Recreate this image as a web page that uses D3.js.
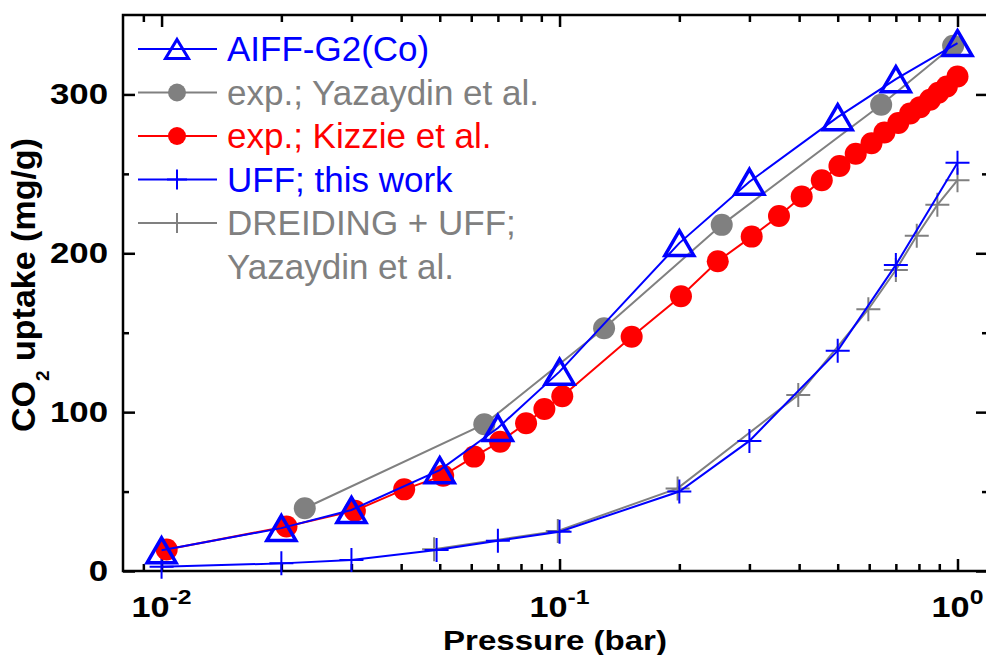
<!DOCTYPE html>
<html>
<head>
<meta charset="utf-8">
<script src="https://cdn.jsdelivr.net/npm/d3@7"></script>
<style>
  body { margin: 0; background: #fff; }
  text { font-family: Arial, "Liberation Sans", sans-serif; }
</style>
</head>
<body>
<div id="chart"></div>
<script>
// ---- data ----
var aiffP = [0.01, 0.02, 0.03, 0.05, 0.07, 0.1, 0.2, 0.3, 0.5, 0.7, 1.0];
var aiffV = [13, 27, 38.4, 63.5, 90, 125.5, 206.4, 245, 285.7, 309.6, 332.3];

var yazP = [0.0229, 0.0647, 0.1294, 0.2556, 0.643, 0.975];
var yazV = [39.5, 92.4, 152.8, 217.9, 293.5, 330.6];

var kizP = [0.0103, 0.0206, 0.0306, 0.0407, 0.051, 0.061, 0.0709, 0.0824, 0.0916, 0.1016,
            0.1518, 0.2019, 0.2498, 0.304, 0.356, 0.406, 0.456, 0.505, 0.555, 0.608,
            0.655, 0.71, 0.76, 0.805, 0.853, 0.895, 0.94, 1.0];
var kizV = [13.5, 28, 38, 51.4, 60, 72, 81.4, 93, 102, 110,
            147.5, 173, 195, 210.5, 223.5, 235.7, 246, 255, 262.6, 269.3,
            276, 282, 288, 292, 296.6, 301, 305, 311.3];

var uffP = [0.01, 0.02, 0.03, 0.0491, 0.07, 0.1, 0.2, 0.3, 0.5, 0.7, 1.0];
var uffV = [2.7, 4.8, 6.9, 13.2, 19.1, 24.7, 50, 81.9, 138.7, 192.7, 257];

var dreP = [0.0484, 0.099, 0.198, 0.398, 0.597, 0.7, 0.79, 0.89, 1.0];
var dreV = [13.7, 25.2, 52, 110.8, 164.8, 189.5, 211, 230.5, 246];

var xMajor = [0.01, 0.1, 1];
var xMajorExp = ['-2', '-1', '0'];
var yMajor = [0, 100, 200, 300];
var yMinor = [50, 150, 250];

var legendNames = ['AIFF-G2(Co)', 'exp.; Yazaydin et al.', 'exp.; Kizzie et al.',
                   'UFF; this work', 'DREIDING + UFF;'];
var legendExtra = 'Yazaydin et al.';

// ---- layout ----
var margin = {top: 15, left: 123};
var width = 865, height = 556;
var BLUE = '#0000ff', RED = '#ff0000', GREY = '#808080';

var svg = d3.select('#chart').append('svg')
    .attr('width', 986).attr('height', 655);
var g = svg.append('g')
    .attr('transform', 'translate(' + margin.left + ',' + margin.top + ')');

var x = d3.scaleLog().domain([0.008, 1.193]).range([0, width]);
var y = d3.scaleLinear().domain([0, 350]).range([height, 0]);

// minor x ticks: 2..9 in each decade
var xMinor = [];
[0.001, 0.01, 0.1, 1].forEach(function(dec) {
  for (var k = 2; k <= 9; k++) {
    var v = dec * k;
    if (v > x.domain()[0] && v < x.domain()[1]) xMinor.push(v);
  }
});

// ---- axes: ticks point inward on all four sides ----
function tickAxis(axis, vals, size) {
  return axis.tickValues(vals).tickSize(size).tickFormat('');
}
var axes = g.append('g').attr('class', 'axes');
axes.append('g').attr('transform', 'translate(0,' + height + ')')
    .call(tickAxis(d3.axisBottom(x), xMajor, -12));
axes.append('g').attr('transform', 'translate(0,' + height + ')')
    .call(tickAxis(d3.axisBottom(x), xMinor, -7));
axes.append('g').call(tickAxis(d3.axisTop(x), xMajor, -12));
axes.append('g').call(tickAxis(d3.axisTop(x), xMinor, -7));
axes.append('g').call(tickAxis(d3.axisLeft(y), yMajor, -12));
axes.append('g').call(tickAxis(d3.axisLeft(y), yMinor, -6));
axes.append('g').attr('transform', 'translate(' + width + ',0)')
    .call(tickAxis(d3.axisRight(y), yMajor, -12));
axes.append('g').attr('transform', 'translate(' + width + ',0)')
    .call(tickAxis(d3.axisRight(y), yMinor, -6));
axes.selectAll('.domain').remove();
axes.selectAll('.tick line').attr('stroke', '#000').attr('stroke-width', 2.5);

g.append('rect')
    .attr('width', width).attr('height', height)
    .attr('fill', 'none').attr('stroke', '#000').attr('stroke-width', 2.5);

// tick labels (the original text is stretched a bit horizontally)
xMajor.forEach(function(v, i) {
  var t = g.append('g')
      .attr('transform', 'translate(' + x(v) + ',' + (height + 46) + ') scale(1.18,1)')
    .append('text')
      .attr('text-anchor', 'middle')
      .attr('font-weight', 'bold')
      .attr('font-size', 29);
  t.append('tspan').text('10');
  t.append('tspan').attr('dy', -13).attr('font-size', 21).text(xMajorExp[i]);
});
yMajor.forEach(function(v) {
  g.append('g')
      .attr('transform', 'translate(-15,' + (y(v) + 10) + ') scale(1.2,1)')
    .append('text')
      .attr('text-anchor', 'end')
      .attr('font-weight', 'bold')
      .attr('font-size', 29)
      .text(v);
});

// axis titles
svg.append('g')
    .attr('transform', 'translate(555,650) scale(1.18,1)')
  .append('text')
    .attr('text-anchor', 'middle')
    .attr('font-weight', 'bold')
    .attr('font-size', 28)
    .text('Pressure (bar)');

var yt = svg.append('text')
    .attr('transform', 'translate(35,285) rotate(-90)')
    .attr('text-anchor', 'middle')
    .attr('font-weight', 'bold')
    .attr('font-size', 34);
yt.append('tspan').text('CO');
yt.append('tspan').attr('dy', 14).attr('font-size', 19).text('2');
yt.append('tspan').attr('dy', -14).text(' uptake (mg/g)');

// ---- series ----
function zip(ps, vs) { return ps.map(function(p, i) { return [p, vs[i]]; }); }
var line = d3.line().x(function(d) { return x(d[0]); }).y(function(d) { return y(d[1]); });

function triPath(w, h) {
  return 'M0,' + (-h) + 'L' + w + ',' + h + 'L' + (-w) + ',' + h + 'Z';
}
function plusPath(s) {
  return 'M' + (-s) + ',0H' + s + 'M0,' + (-s) + 'V' + s;
}

var series = [
  {data: zip(dreP, dreV), color: GREY, marker: 'plus'},
  {data: zip(uffP, uffV), color: BLUE, marker: 'plus'},
  {data: zip(yazP, yazV), color: GREY, marker: 'circle'},
  {data: zip(kizP, kizV), color: RED, marker: 'circle'},
  {data: zip(aiffP, aiffV), color: BLUE, marker: 'triangle'}
];

var gSeries = g.append('g').attr('class', 'series');
series.forEach(function(s) {
  var sg = gSeries.append('g');
  sg.append('path')
      .attr('d', line(s.data))
      .attr('fill', 'none')
      .attr('stroke', s.color)
      .attr('stroke-width', 2);
  var pts = sg.selectAll('.pt').data(s.data).enter();
  if (s.marker === 'circle') {
    pts.append('circle')
        .attr('cx', function(d) { return x(d[0]); })
        .attr('cy', function(d) { return y(d[1]); })
        .attr('r', 11)
        .attr('fill', s.color);
  } else if (s.marker === 'plus') {
    pts.append('path')
        .attr('transform', function(d) { return 'translate(' + x(d[0]) + ',' + y(d[1]) + ')'; })
        .attr('d', plusPath(12))
        .attr('stroke', s.color)
        .attr('stroke-width', 2);
  } else {
    pts.append('path')
        .attr('transform', function(d) { return 'translate(' + x(d[0]) + ',' + y(d[1]) + ')'; })
        .attr('d', triPath(14.5, 12.5))
        .attr('fill', 'none')
        .attr('stroke', s.color)
        .attr('stroke-width', 3.5)
        .attr('stroke-linejoin', 'miter');
  }
});

// ---- legend ----
var legendColors = [BLUE, GREY, RED, BLUE, GREY];
var legendMarkers = ['triangle', 'circle', 'circle', 'plus', 'plus'];
var legend = svg.append('g').attr('class', 'legend');
var rowY = d3.scaleLinear().domain([0, 1]).range([49, 92.5]);

legendNames.forEach(function(name, i) {
  var cy = rowY(i);
  var c = legendColors[i];
  legend.append('line')
      .attr('x1', 138).attr('x2', 217).attr('y1', cy).attr('y2', cy)
      .attr('stroke', c).attr('stroke-width', 2);
  var m = legendMarkers[i];
  if (m === 'triangle') {
    legend.append('path')
        .attr('transform', 'translate(177,' + cy + ')')
        .attr('d', triPath(11.5, 9.5))
        .attr('fill', 'none').attr('stroke', c).attr('stroke-width', 3);
  } else if (m === 'circle') {
    legend.append('circle').attr('cx', 177).attr('cy', cy).attr('r', 9).attr('fill', c);
  } else {
    legend.append('path')
        .attr('transform', 'translate(177,' + cy + ')')
        .attr('d', plusPath(10))
        .attr('stroke', c).attr('stroke-width', 2);
  }
  legend.append('text')
      .attr('x', 227).attr('y', cy + 12)
      .attr('font-size', 35)
      .attr('fill', c)
      .text(name);
});
legend.append('text')
    .attr('x', 227).attr('y', rowY(5) + 12)
    .attr('font-size', 35)
    .attr('fill', GREY)
    .text(legendExtra);
</script>
</body>
</html>
